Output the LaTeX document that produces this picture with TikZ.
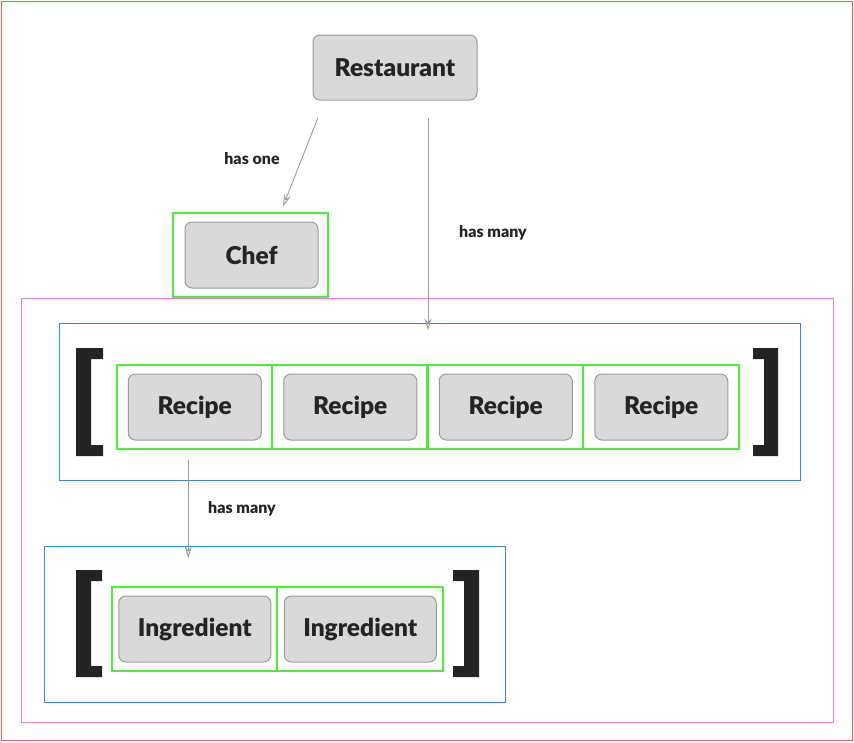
\documentclass[tikz,border=0pt]{standalone}
\usepackage{fontspec}
\setmainfont{Lato}[BoldFont={Lato Black}]
\usetikzlibrary{arrows.meta,positioning,calc}
\definecolor{boxfill}{RGB}{217,217,217}
\definecolor{boxline}{RGB}{155,155,155}
\definecolor{inkdark}{RGB}{36,36,36}
\definecolor{slotgreen}{RGB}{78,236,56}
\definecolor{listblue}{RGB}{52,136,235}
\definecolor{scopepink}{RGB}{240,125,220}
\definecolor{framered}{RGB}{238,90,90}

\begin{document}
\begin{tikzpicture}[
    x=1pt, y=-1pt,
    entity/.style={rectangle, rounded corners=7pt, draw=boxline, line width=1pt, fill=boxfill,
                   minimum width=133pt, minimum height=66pt, inner sep=0pt,
                   font=\fontsize{24.5}{27}\selectfont\bfseries, text=inkdark},
    slot/.style={rectangle, draw=slotgreen, line width=1.1pt, minimum height=84pt, inner sep=0pt},
    listbox/.style={rectangle, draw=listblue, line width=1pt, inner sep=0pt},
    brk/.style={fill=inkdark, draw=none},
    rel/.style={-{Stealth[open, length=12pt, width=7pt]}, line width=0.9pt, boxline},
    relabel/.style={font=\fontsize{16}{19}\selectfont\bfseries, text=inkdark}
]
\useasboundingbox (0,0) rectangle (854,742);
% frames
\node[rectangle, draw=framered, line width=1pt, minimum width=851pt, minimum height=739pt, inner sep=0pt] (page) at (426.5,370.5) {};
\node[rectangle, draw=scopepink, line width=1pt, minimum width=812pt, minimum height=424pt, inner sep=0pt] (menu) at (427,510) {};
\node[listbox, minimum width=741pt, minimum height=157pt] (recipelist) at (429.5,401.5) {};
\node[listbox, minimum width=461pt, minimum height=156pt] (ingredientlist) at (274.5,624) {};

% top
\node[entity, minimum width=164pt, minimum height=65pt] (restaurant) at (395,67.5) {Restaurant};
\node[slot, minimum width=155pt] (chefslot) at (250.5,255) {};
\node[entity] (chef) at (251.5,255) {Chef};

% recipes
\foreach \i in {1,...,4} {
    \node[slot, minimum width=155.5pt] (rslot\i) at ({117+155.5*(\i-0.5)},407) {};
    \node[entity] (recipe\i) at (rslot\i) {Recipe};
}
\foreach \i in {2,3,4}
    \draw[slotgreen, line width=2pt] (rslot\i.north west) -- (rslot\i.south west);

% ingredients
\foreach \i in {1,2} {
    \node[slot, minimum width=165.5pt] (islot\i) at ({112+165.5*(\i-0.5)},629) {};
    \node[entity, minimum width=152pt] (ingredient\i) at (islot\i) {Ingredient};
}
\draw[slotgreen, line width=2pt] (islot2.north west) -- (islot2.south west);

% brackets
\fill[brk] (76,348) -- (103,348) -- (103,359) -- (91,359) -- (91,445) -- (103,445) -- (103,456) -- (76,456) -- cycle;
\fill[brk] (778,348) -- (753,348) -- (753,359) -- (764,359) -- (764,445) -- (753,445) -- (753,456) -- (778,456) -- cycle;
\fill[brk] (76,570) -- (102,570) -- (102,581) -- (91,581) -- (91,666) -- (102,666) -- (102,677) -- (76,677) -- cycle;
\fill[brk] (479,570) -- (453,570) -- (453,581) -- (464,581) -- (464,666) -- (453,666) -- (453,677) -- (479,677) -- cycle;

% relations
\coordinate (rsone) at ([xshift=-77pt,yshift=-17pt]restaurant.south);
\coordinate (rsmany) at ([xshift=33pt,yshift=-17pt]restaurant.south);
\coordinate (rcmany) at ([xshift=-6.5pt,yshift=-19pt]recipe1.south);
\draw[rel] (rsone) -- ([xshift=32.5pt,yshift=6pt]chefslot.north);
\draw[rel] (rsmany) -- ([yshift=-8pt]rsmany |- recipelist.north);
\draw[rel] (rcmany) -- ([yshift=-13pt]rcmany |- ingredientlist.north);
\node[relabel] (hasone) at (252,159) {has one};
\node[relabel] (hasmany1) at (493,233) {has many};
\node[relabel] (hasmany2) at (242,509) {has many};
\end{tikzpicture}
\end{document}
